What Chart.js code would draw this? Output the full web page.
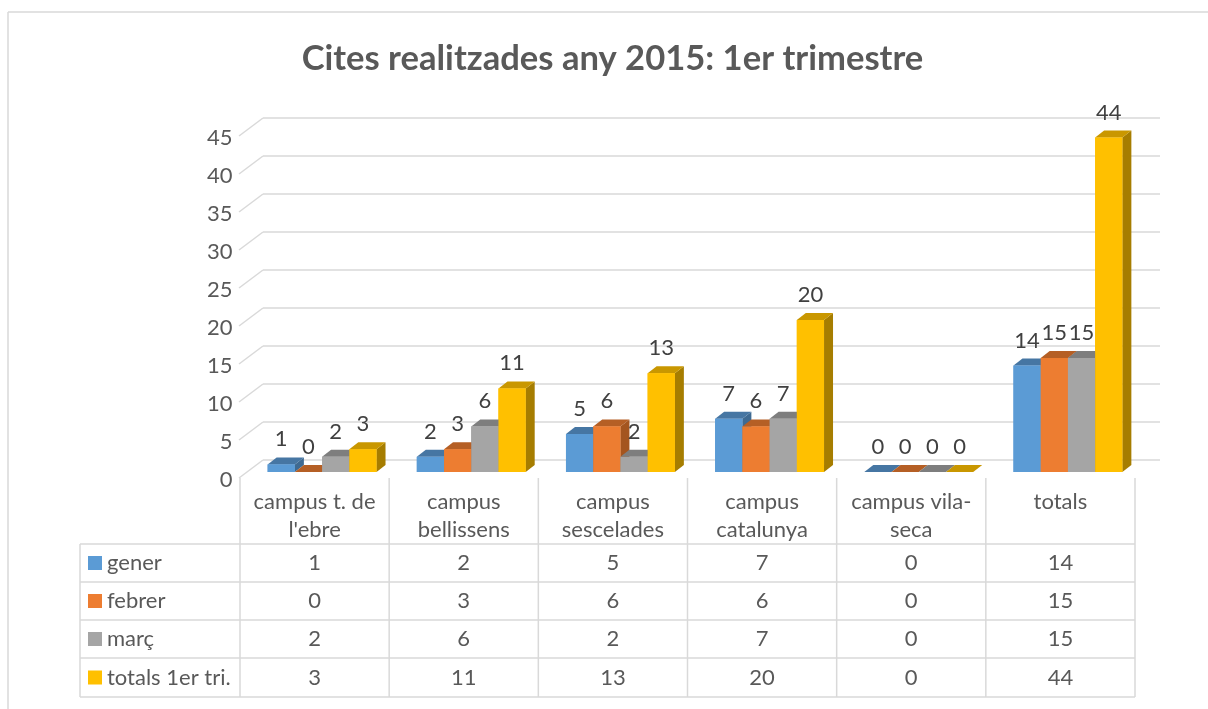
<!DOCTYPE html>
<html><head><meta charset="utf-8">
<style>html,body{margin:0;padding:0;background:#fff;overflow:hidden}canvas{display:block}</style>
<script src="https://cdn.jsdelivr.net/npm/chart.js@4"></script></head>
<body><canvas id="c" width="1208" height="709"></canvas>
<script>
const categories = [["campus t. de","l'ebre"],["campus","bellissens"],["campus","sescelades"],["campus","catalunya"],["campus vila-","seca"],["totals"]];
const seriesNames = ["gener","febrer","març","totals 1er tri."];
const gener = [1,2,5,7,0,14];
const febrer = [0,3,6,6,0,15];
const marc = [2,6,2,7,0,15];
const totals = [3,11,13,20,0,44];
const seriesValues = [gener,febrer,marc,totals];
const frontColors = ["#5B9BD5","#ED7D31","#A5A5A5","#FFC000"];
const topColors = ["#4676A3","#B55F25","#7E7E7E","#C99700"];
const sideColors = ["#3E6A92","#A4551F","#6F6F6F","#A67D00"];
const FONT = "Lato, 'Open Sans', sans-serif";
const TXT = "#595959", LINE = "#D9D9D9";
const rowLines = [544,582,620,658,697];
const textSize = 22;

function hline(c,x1,y1,x2,y2,w){c.beginPath();c.moveTo(x1,y1);c.lineTo(x2,y2);c.lineWidth=w||1.5;c.strokeStyle=LINE;c.stroke();}

const scene = {
  id:'scene',
  beforeDraw(chart){
    const c=chart.ctx, y=chart.scales.y, x=chart.scales.x;
    c.save();
    c.fillStyle='#fff';c.fillRect(0,0,1208,709);
    hline(c,8,12,1208,12,1.5); hline(c,8,12,8,709,1.5);
    // walls
    y.ticks.forEach(t=>{
      const p=y.getPixelForValue(t.value);
      hline(c,239,p+6,263,p-12);
      hline(c,263,p-12,1160,p-12);
    });
    // table
    const step=x.getPixelForTick(1)-x.getPixelForTick(0);
    const cols=categories.map((_,i)=>x.getPixelForTick(i)-7.5-step/2);
    cols.push(cols[cols.length-1]+step);
    cols.forEach(cx=>hline(c,cx,478,cx,697));
    rowLines.forEach(ry=>hline(c,80,ry,cols[cols.length-1],ry));
    hline(c,80,544,80,697);
    c.font=textSize+"px "+FONT;c.textBaseline='middle';
    seriesNames.forEach((n,r)=>{
      const mid=(rowLines[r]+rowLines[r+1])/2;
      c.fillStyle=frontColors[r];c.fillRect(88,mid-7,14,14);
      c.fillStyle=TXT;c.textAlign='left';c.fillText(n,107,mid);
      c.textAlign='center';
      seriesValues[r].forEach((v,i)=>c.fillText(String(v),x.getPixelForTick(i)-7.5,mid));
    });
    c.restore();
  },
  afterDatasetsDraw(chart){
    const c=chart.ctx; c.save();
    const dx=9, dy=7;
    const metas=seriesValues.map((_,d)=>chart.getDatasetMeta(d));
    categories.forEach((_,i)=>{
      metas.forEach((m,d)=>{
        const b=m.data[i]; const w=b.width, L=b.x-w/2, R=b.x+w/2, T=b.y, B=b.base;
        c.fillStyle=sideColors[d];
        c.beginPath();c.moveTo(R,T);c.lineTo(R+dx,T-dy);c.lineTo(R+dx,B-dy);c.lineTo(R,B);c.closePath();c.fill();
        c.fillStyle=topColors[d];
        c.beginPath();c.moveTo(L,T);c.lineTo(L+dx,T-dy);c.lineTo(R+dx,T-dy);c.lineTo(R,T);c.closePath();c.fill();
        c.fillStyle=frontColors[d];
        c.fillRect(L,T,w,B-T);
      });
    });
    c.font=textSize+"px "+FONT;c.fillStyle="#404040";c.textAlign='center';c.textBaseline='middle';
    metas.forEach((m,d)=>m.data.forEach((b,i)=>c.fillText(String(seriesValues[d][i]),b.x,b.y-25)));
    c.restore();
  }
};

new Chart(document.getElementById('c'),{
  type:'bar',
  data:{labels:categories,datasets:seriesNames.map((n,d)=>({label:n,data:seriesValues[d],backgroundColor:frontColors[d],borderWidth:0}))},
  plugins:[scene],
  options:{
    responsive:false,animation:false,devicePixelRatio:1,
    layout:{padding:{left:82.5,right:65.5,top:0,bottom:0}},
    datasets:{bar:{categoryPercentage:0.73,barPercentage:1}},
    plugins:{
      legend:{display:false},tooltip:{enabled:false},
      title:{display:true,text:"Cites realitzades any 2015: 1er trimestre",color:TXT,
        font:{family:FONT,size:34.6,weight:'bold',lineHeight:1.2},padding:{top:38,bottom:50.5}}
    },
    scales:{
      x:{grid:{display:false},border:{display:false},
        ticks:{autoSkip:false,maxRotation:0,minRotation:0,color:TXT,padding:8,labelOffset:-7.5,
          font:{family:FONT,size:textSize,lineHeight:1.27}},
        afterFit(s){s.height=237;}},
      y:{min:0,max:45,grid:{display:false},border:{display:false},
        ticks:{stepSize:5,color:TXT,padding:7,labelOffset:8,font:{family:FONT,size:textSize}},
        afterFit(s){s.width=165;}}
    }
  }
});
</script></body></html>
